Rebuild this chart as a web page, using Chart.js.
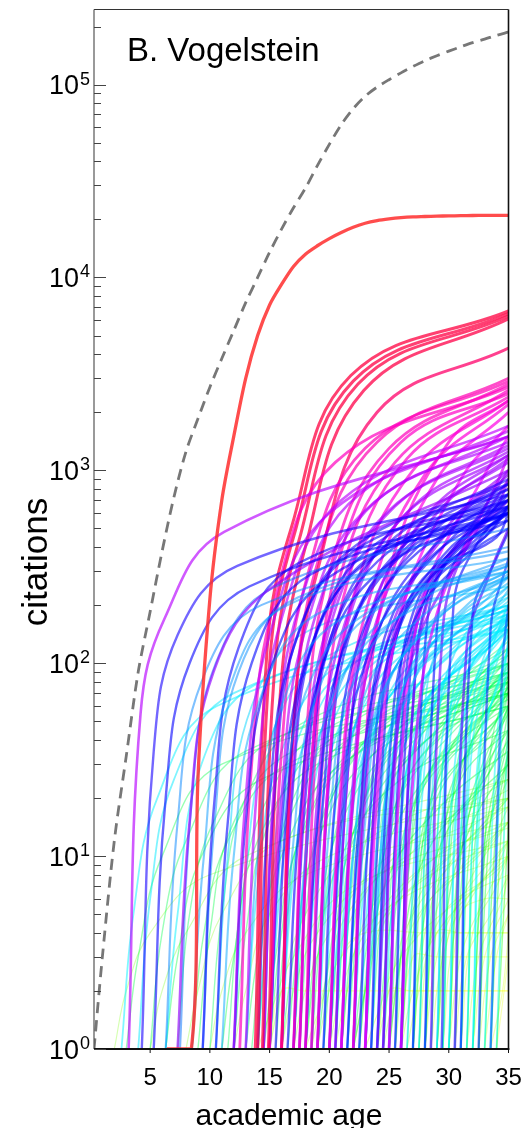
<!DOCTYPE html>
<html>
<head>
<meta charset="utf-8">
<script src="https://cdn.jsdelivr.net/npm/chart.js@4.4.1/dist/chart.umd.min.js"></script>
<style>
  html, body { margin: 0; padding: 0; background: #fff; }
  canvas { display: block; }
</style>
</head>
<body>
<canvas id="chart" width="531" height="1128"></canvas>
<script>
// cumulative citations of each paper vs academic age — B. Vogelstein

const authorName = "B. Vogelstein";
const xTitle = "academic age";
const yTitle = "citations";
const xTicks = [5, 10, 15, 20, 25, 30, 35];
const yTickExponents = [0, 1, 2, 3, 4, 5];

// total citations of the author (grey dashed)
const totalAges = [0.3, 1, 2, 3, 4, 5, 6, 7, 8, 9, 10, 11, 12, 13, 14, 15, 16, 17, 18,
  19, 20, 21, 22, 23, 24, 25, 26, 27, 28, 29, 30, 31, 32, 33, 34, 35];
const totalCitations = [1, 3, 12, 33, 90, 185, 380, 730, 1250, 1850, 2700, 3800, 5300,
  7400, 10000, 13500, 17800, 23000, 29000, 38000, 49000, 62000, 75000, 87000, 97000,
  106000, 115000, 124000, 133000, 141000, 149000, 157000, 165000, 172000, 180000, 187000];

// most cited paper (red), flat at the bottom until its first citations
const topPaperAges = [6.4, 8.45, 9, 10, 11, 12, 13, 14, 15, 16, 17, 18, 19, 20, 21, 22, 23,
  24, 25, 26, 27, 28, 29, 30, 31, 32, 33, 34, 35];
const topPaperCitations = [1, 1, 25, 215, 700, 1500, 3000, 5000, 7200, 9200, 11400, 13200,
  14600, 15900, 17100, 18200, 19100, 19700, 20100, 20400, 20600, 20700, 20800, 20850,
  20900, 20950, 21000, 21000, 21000];

// other papers: [first age, citations 1 yr later, 3 yrs later, 8 yrs later, at age 35]
const pinkPapers = [
  [13.8, 120, 500, 3100, 6700], [14.0, 100, 450, 2900, 6500], [14.4, 90, 420, 2800, 6300],
  [14.9, 70, 380, 2600, 6100], [16.0, 50, 300, 2000, 4300]
];
const magentaPapers = [
  [12.5, 30, 220, 1100, 2700], [15, 35, 260, 1300, 2900], [16, 45, 330, 1400, 3000],
  [17, 35, 300, 1300, 2800], [17.5, 30, 230, 1100, 2600], [18, 50, 380, 1400, 2500],
  [18.5, 35, 260, 1150, 2400], [19, 30, 220, 1000, 2300], [20, 25, 180, 950, 2200],
  [21, 20, 160, 900, 2000], [22, 35, 300, 1400, 2300], [23, 20, 180, 900, 1700],
  [25, 30, 230, 950, 1500], [26, 25, 180, 850, 1200]
];
const violetPapers = [
  [3.2, 55, 170, 480, 1500], [7.3, 15, 90, 250, 1000], [12, 20, 140, 600, 1600],
  [13, 25, 170, 700, 1700], [14.5, 30, 200, 750, 1500], [15, 20, 150, 620, 1500],
  [16, 30, 190, 700, 1400], [17, 25, 170, 620, 1300], [17.5, 30, 190, 650, 1350],
  [18, 20, 140, 560, 1200], [19, 30, 200, 650, 1250], [20, 20, 150, 560, 1100],
  [20.5, 25, 180, 620, 1200], [21, 25, 170, 600, 1150], [22, 20, 140, 520, 1000],
  [23, 30, 190, 580, 950], [24, 15, 110, 450, 900], [24.5, 30, 200, 580, 1000],
  [26, 60, 280, 650, 900], [28.5, 150, 400, null, 700], [30.5, 120, 300, null, 500]
];
const bluePapers = [
  [4.3, 35, 140, 320, 750], [5.3, 20, 100, 250, 600], [9.4, 20, 120, 330, 650],
  [10.5, 15, 100, 290, 550], [12, 15, 90, 280, 600], [14, 20, 120, 380, 700],
  [14.5, 25, 150, 420, 850], [15, 15, 100, 330, 650], [15.5, 20, 120, 360, 700],
  [16, 25, 150, 420, 800], [16.5, 15, 100, 310, 600], [17, 20, 130, 380, 750],
  [17.5, 25, 160, 450, 900], [18, 15, 110, 360, 700], [18.5, 20, 140, 400, 800],
  [19, 25, 160, 450, 850], [19.5, 20, 130, 380, 600], [20, 15, 100, 330, 650],
  [20.5, 25, 170, 470, 850], [21, 20, 140, 420, 750], [21.5, 15, 110, 360, 650],
  [22, 25, 160, 430, 700], [22.5, 20, 140, 400, 700], [23, 30, 160, 400, 600],
  [23.5, 35, 200, 450, 750], [24, 30, 160, 380, 500], [24.5, 40, 220, 450, 620],
  [25, 40, 220, 450, 650], [25.5, 50, 260, 480, 650], [26, 60, 280, 450, 600],
  [27, 120, 350, null, 550], [28, 150, 380, null, 600], [29.4, 200, 420, null, 650],
  [31, 180, 350, null, 480], [32.5, 150, null, null, 350], [33.5, 100, null, null, 200]
];
const azurePapers = [
  [6.3, 15, 80, 200, 400], [7.5, 20, 100, 250, 500], [8.5, 10, 70, 200, 350],
  [9.4, 15, 90, 220, 380], [11, 10, 60, 180, 300], [13, 10, 60, 170, 300],
  [15, 12, 70, 180, 320], [16, 12, 70, 190, 330], [17, 10, 60, 160, 280],
  [18, 15, 80, 200, 350], [19, 14, 80, 200, 320], [20, 12, 70, 180, 300],
  [21, 10, 60, 170, 280], [21.5, 12, 70, 180, 290], [22, 15, 80, 200, 300],
  [23, 12, 70, 180, 260], [23.5, 15, 85, 200, 280], [24, 20, 80, 170, 250],
  [25, 30, 110, 210, 280], [26, 30, 110, 200, 240]
];
const cyanPapers = [
  [2.6, 5, 20, 60, 150], [4, 6, 25, 70, 170], [6.3, 5, 30, 80, 150],
  [10.5, 10, 60, 150, 250], [12, 8, 40, 110, 200], [13, 7, 35, 100, 190],
  [14, 6, 35, 100, 180], [15, 8, 40, 110, 200], [16, 8, 40, 110, 190],
  [17, 9, 45, 115, 190], [18, 10, 50, 120, 200], [19, 8, 45, 110, 180],
  [19.5, 10, 55, 130, 220], [20, 6, 40, 100, 170], [20.5, 8, 45, 110, 180],
  [21, 10, 50, 120, 190], [21.5, 12, 60, 140, 230], [22, 8, 45, 110, 170],
  [22.5, 9, 50, 115, 175], [23, 7, 40, 100, 160], [23.5, 12, 60, 140, 210],
  [24, 10, 50, 110, 160], [24.5, 8, 45, 105, 160], [25, 15, 60, 120, 170],
  [25.5, 18, 70, 140, 200], [26, 20, 70, 130, 170], [26.5, 20, 75, 140, 180],
  [27, 60, 150, null, 250], [27, 30, 90, null, 170], [27.5, 30, 95, null, 180],
  [28, 45, 130, null, 220], [28, 25, 80, null, 150], [28.5, 30, 90, null, 160],
  [29, 50, 130, null, 200], [29, 35, 100, null, 170], [29.5, 30, 90, null, 150],
  [30, 40, 110, null, 180], [30, 30, 85, null, 140], [30.5, 35, 90, null, 140],
  [31, 60, 140, null, 200], [31, 40, 100, null, 150], [31.5, 35, 90, null, 130],
  [32, 70, null, null, 150], [32, 40, 95, null, 120], [33, 40, null, null, 100],
  [33.5, 60, null, null, 140], [34, null, null, null, 60]
];
const greenPapers = [
  [3, 3, 10, 30, 70], [5, 4, 12, 35, 80], [6.3, 3, 10, 25, 60], [7.3, 5, 15, 40, 90],
  [8.5, 4, 12, 30, 70], [9, 4, 15, 35, 70], [10, 5, 20, 50, 100], [11, 3, 12, 30, 60],
  [11.5, 5, 18, 45, 90], [12, 4, 15, 40, 80], [13, 3, 10, 30, 70], [13.5, 4, 15, 40, 85],
  [14, 5, 20, 50, 100], [14.5, 3, 12, 35, 75], [15, 4, 15, 40, 80], [15.5, 5, 20, 50, 100],
  [16, 3, 12, 35, 70], [16.5, 4, 16, 45, 90], [17, 5, 20, 50, 90], [17.5, 6, 22, 55, 110],
  [18, 4, 15, 40, 80], [18, 3, 10, 25, 45], [18.5, 5, 20, 50, 100], [19, 3, 12, 35, 65],
  [19.5, 4, 16, 42, 85], [20, 5, 20, 50, 90], [20.5, 6, 24, 55, 100], [21, 4, 18, 45, 80],
  [21.5, 5, 20, 48, 90], [22, 3, 12, 35, 60], [22, 2, 8, 20, 35], [22.5, 4, 18, 45, 80],
  [23, 5, 22, 55, 90], [23.5, 6, 25, 55, 95], [24, 4, 18, 45, 75], [24.5, 5, 22, 50, 85],
  [25, 6, 25, 55, 85], [25, 3, 10, 25, 40], [25.5, 7, 28, 60, 90], [26, 5, 20, 50, 70],
  [26, 6, 22, 45, 60], [26.5, 8, 28, 55, 80], [27, 12, 35, null, 70], [27, 5, 14, null, 30],
  [27.5, 15, 40, null, 80], [28, 10, 30, null, 60], [28, 8, 25, null, 45],
  [28.5, 12, 35, null, 70], [29, 15, 40, null, 70], [29, 6, 15, null, 30],
  [29.5, 18, 45, null, 75], [30, 12, 32, null, 55], [30, 10, 28, null, 45],
  [30.5, 14, 35, null, 60], [31, 16, 38, null, 60], [31.5, 18, 40, null, 60],
  [32, 12, 30, null, 45], [32, 10, 25, null, 35], [32.5, 15, null, null, 40],
  [33, 15, null, null, 35], [33.5, 18, null, null, 35], [34, null, null, null, 15],
  [21, 8, 30, 70, 120], [23, 10, 35, 80, 130], [24.5, 12, 40, 85, 120], [26, 15, 45, 90, 120],
  [27.5, 25, 60, null, 110], [28.5, 30, 70, null, 120], [29.5, 25, 60, null, 100],
  [30.5, 30, 65, null, 100], [31.5, 30, 60, null, 90], [32.5, 35, null, null, 80]
];
const yellowPapers = [
  [2, 2, 4, 8, 20], [5, 2, 4, 10, 25], [8, 2, 5, 12, 20], [10, 2, 4, 8, 15],
  [12, 2, 5, 10, 18], [14, 1.5, 3, 7, 12], [15, 2, 5, 12, 25], [16, 2, 4, 8, 14],
  [17, 2, 4, 10, 20], [18, 1.5, 3, 6, 10], [18.5, 2, 5, 10, 18], [19, 2, 5, 12, 22],
  [20, 2, 4, 9, 15], [20.5, 2, 4, 8, 12], [21, 3, 6, 14, 25], [22, 2, 5, 10, 18],
  [22.5, 3, 6, 12, 20], [23, 1.5, 3, 6, 8], [24, 2, 5, 12, 20], [24.5, 2, 5, 10, 15],
  [25, 3, 7, 15, 25], [25.5, 3, 6, 12, 18], [26, 2, 4, 9, 12], [26.5, 2, 5, 9, 12],
  [27, 4, 9, null, 20], [27.5, 4, 8, null, 15], [28, 3, 6, null, 12], [28.5, 3, 6, null, 10],
  [29, 4, 8, null, 15], [29.5, 4, 7, null, 12], [30, 3, 6, null, 10], [30.5, 3, 5, null, 8],
  [31, 4, 7, null, 10], [31.5, 3, 6, null, 8], [32, 3, 5, null, 6], [32.5, 3, null, null, 5],
  [33, 3, null, null, 5], [33.5, 2, null, null, 4], [34, null, null, null, 3],
  [15, 2, 2, 2, 2], [20, 3, 4, 4, 4], [24, 2, 2, 2, 2], [26, 3, 3, 3, 3],
  [28, 4, 4, null, 4], [30, 5, 6, null, 6]
];

// colour bands (low -> high end value)
const frontGroups = [
  { papers: pinkPapers, hue: [335, 345], width: 3, alpha: 0.75 },
  { papers: magentaPapers, hue: [292, 318], width: 2.8, alpha: 0.7 },
  { papers: violetPapers, hue: [262, 285], width: 2.6, alpha: 0.65 },
  { papers: bluePapers, hue: [222, 248], width: 2.4, alpha: 0.6 },
  { papers: azurePapers, hue: [196, 214], width: 2.1, alpha: 0.5 }
];
const backGroups = [
  { papers: cyanPapers, hue: [170, 190], width: 1.8, alpha: 0.5 },
  { papers: greenPapers, hue: [115, 145], width: 1.4, alpha: 0.4 },
  { papers: yellowPapers, hue: [60, 95], width: 1.2, alpha: 0.3 }
];

function paperPoints(p) {
  const [start, c1, c3, c8, cEnd] = p;
  const pts = [{ x: start, y: 1 }];
  [[1, c1], [3, c3], [8, c8]].forEach(([dt, c]) => {
    if (c != null && start + dt < 35) pts.push({ x: start + dt, y: c });
  });
  pts.push({ x: 35, y: cEnd });
  return pts;
}

function lineColour(g, cEnd) {
  const ends = g.papers.map(p => Math.log10(p[4]));
  const lo = Math.min(...ends), hi = Math.max(...ends);
  const t = hi > lo ? (Math.log10(cEnd) - lo) / (hi - lo) : 0.5;
  const hue = g.hue[0] + t * (g.hue[1] - g.hue[0]);
  return `hsla(${hue.toFixed(0)}, 100%, 50%, ${g.alpha})`;
}

function paperDataset(g, p) {
  return {
    data: paperPoints(p),
    borderColor: lineColour(g, p[4]),
    borderWidth: g.width,
    tension: 0.4
  };
}

// first dataset is painted last (on top)
const datasets = [
  {
    data: totalAges.map((a, i) => ({ x: a, y: totalCitations[i] })),
    borderColor: "#777", borderWidth: 2.8, borderDash: [11, 7], tension: 0.3
  },
  {
    data: topPaperAges.map((a, i) => ({ x: a, y: topPaperCitations[i] })),
    borderColor: "rgba(255, 45, 45, 0.85)", borderWidth: 3.3, tension: 0.3
  }
];
// strong colours mixed together, ordered by first age
const front = [];
frontGroups.forEach(g => g.papers.forEach(p => front.push([g, p])));
front.sort((a, b) => a[1][0] - b[1][0]);
front.forEach(([g, p]) => datasets.push(paperDataset(g, p)));
// pale colours behind them
backGroups.forEach(g => g.papers.forEach(p => datasets.push(paperDataset(g, p))));
datasets.forEach(d => { d.pointRadius = 0; d.fill = false; d.clip = 0; });

const FONT = '"Liberation Sans", Helvetica, Arial, sans-serif';

function edge(c, x1, y1, x2, y2, colour, width) {
  c.strokeStyle = colour;
  c.lineWidth = width;
  c.beginPath();
  c.moveTo(x1, y1);
  c.lineTo(x2, y2);
  c.stroke();
}

const frame = {
  id: "frame",
  beforeDraw(chart) {
    const c = chart.ctx;
    c.save();
    c.fillStyle = "#fff";
    c.fillRect(0, 0, chart.width, chart.height);
    c.restore();
  },
  afterDatasetsDraw(chart) {
    const { ctx: c, chartArea: a, scales: { x, y } } = chart;
    c.save();
    // box: thin grey left/top, darker right/bottom
    edge(c, a.left, a.top, a.right, a.top, "#333", 1);
    edge(c, a.left, a.top, a.left, a.bottom, "#555", 1.2);
    edge(c, a.right, a.top, a.right, a.bottom + 1, "#111", 1.6);
    edge(c, a.left, a.bottom, a.right + 0.8, a.bottom, "#111", 2);

    // inward ticks on the y axis
    c.strokeStyle = "#444";
    c.lineWidth = 1;
    for (let e = 0; e <= 5; e++) {
      for (let m = 1; m <= 9; m++) {
        const v = m * Math.pow(10, e);
        if (v > y.max) break;
        const py = Math.round(y.getPixelForValue(v)) + 0.5;
        c.beginPath();
        c.moveTo(a.left, py);
        c.lineTo(a.left + (m === 1 ? 12 : 7), py);
        c.stroke();
      }
    }
    // short ticks under the x axis
    c.strokeStyle = "#111";
    xTicks.forEach(v => {
      const px = x.getPixelForValue(v);
      c.beginPath();
      c.moveTo(px, a.bottom);
      c.lineTo(px, a.bottom + 4);
      c.stroke();
    });

    c.fillStyle = "#000";
    // y tick labels 10^k
    yTickExponents.forEach(k => {
      const py = y.getPixelForValue(Math.pow(10, k));
      c.font = `27px ${FONT}`;
      c.textAlign = "right";
      c.textBaseline = "alphabetic";
      c.fillText("10", 79, py + 9.8);
      c.font = `18px ${FONT}`;
      c.textAlign = "left";
      c.fillText(String(k), 80, py);
    });
    // x tick labels
    c.font = `24px ${FONT}`;
    c.textAlign = "center";
    xTicks.forEach(v => c.fillText(String(v), x.getPixelForValue(v), 1085));

    // axis titles and author name
    c.font = `30px ${FONT}`;
    c.fillText(xTitle, 289, 1125);
    c.save();
    c.translate(46.5, 562);
    c.rotate(-Math.PI / 2);
    c.font = `35px ${FONT}`;
    c.fillText(yTitle, 0, 0);
    c.restore();
    c.font = `33px ${FONT}`;
    c.textAlign = "left";
    c.fillText(authorName, 127, 61);
    c.restore();
  }
};

new Chart(document.getElementById("chart"), {
  type: "line",
  data: { datasets },
  options: {
    responsive: false,
    animation: false,
    devicePixelRatio: 1,
    layout: { padding: { left: 94, right: 22.5, top: 9.5, bottom: 79 } },
    scales: {
      x: { type: "linear", min: 0.3, max: 35, display: false },
      y: { type: "logarithmic", min: 1, max: 245000, display: false }
    },
    plugins: { legend: { display: false }, tooltip: { enabled: false } }
  },
  plugins: [frame]
});
</script>
</body>
</html>
